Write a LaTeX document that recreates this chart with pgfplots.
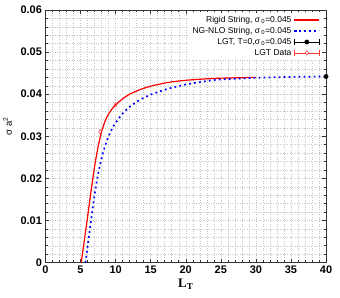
\documentclass[border=0pt]{standalone}
\usepackage{pgfplots}
\pgfplotsset{compat=1.18}
\usepackage{fontspec}
\setmainfont{Liberation Sans}
\newfontfamily\serifb{Liberation Serif}
\begin{document}
\begin{tikzpicture}
\pgfplotsset{
  longline/.style={legend image code/.code={\draw[mark repeat=2,mark phase=2,##1] plot coordinates {(0pt,0pt) (12.5pt,0pt) (25pt,0pt)};}},
}
\begin{axis}[
  scale only axis, width=281pt, height=253pt,
  at={(0,0)}, anchor=south west,
  xmin=0, xmax=40, ymin=0, ymax=0.06,
  xtick={0,5,10,15,20,25,30,35,40},
  ytick={0,0.01,0.02,0.03,0.04,0.05,0.06},
  minor x tick num=4, minor y tick num=4,
  scaled y ticks=false,
  yticklabel style={/pgf/number format/fixed, /pgf/number format/precision=2},
  /pgf/number format/assume math mode=true,
  tick label style={font=\fontsize{11}{12}\selectfont\bfseries},
  tick align=inside, tick pos=both,
  major tick length=4pt, minor tick length=2.5pt,
  tick style={black!80, line width=0.5pt},
  axis line style={black!80, line width=0.9pt},
  grid=both,
  major grid style={gray!45, dotted, line width=0.45pt},
  minor grid style={gray!45, dotted, line width=0.45pt},
  xlabel={L\textsubscript{T}},
  ylabel={σ a\textsuperscript{2}},
  every axis x label/.style={at={(axis description cs:0.5,-0.087)}, anchor=center, font=\serifb\bfseries\fontsize{13}{14}\selectfont},
  every axis y label/.style={at={(axis description cs:-0.135,0.54)}, rotate=90, anchor=center, font=\fontsize{9.5}{10}\selectfont},
  clip mode=individual,
  legend style={at={(axis description cs:0.985,0.99)}, anchor=north east, draw=none, fill=white,
    font=\fontsize{8.5}{9.5}\selectfont, row sep=-0.6pt, inner sep=1.5pt},
  legend cell align=right,
  legend plot pos=right,
]
\addplot[red, line width=1.2pt, smooth, tension=0.4, longline] coordinates {
(5.1,0) (5.5,0.0048) (6.0,0.0108) (6.5,0.0170) (7.0,0.0228) (7.5,0.0275) (8.0,0.0311)
(8.5,0.0336) (9.0,0.0353) (9.5,0.0365) (10,0.0375) (11,0.0389) (12,0.0400) (13.5,0.0411)
(15,0.0419) (17.5,0.0428) (20,0.0433) (22.5,0.0436) (25,0.0438) (27.5,0.0439) (30,0.0440)
};
\addlegendentry{Rigid String, σ\,\textsubscript{0}=0.045}
\addplot[blue, line width=1.7pt, dash pattern=on 1.8pt off 3.2pt, smooth, tension=0.4, longline] coordinates {
(5.7,0) (6.0,0.0038) (6.5,0.0100) (7.0,0.0161) (7.5,0.0210) (8.0,0.0248) (8.5,0.0277)
(9.0,0.0300) (9.5,0.0318) (10,0.0332) (11,0.0354) (12,0.0370) (13.5,0.0387) (15,0.0399)
(17.5,0.0413) (20,0.0423) (22.5,0.0430) (25,0.0435) (30,0.0439) (35,0.0441) (40,0.0442)
};
\addlegendentry{NG-NLO String, σ\,\textsubscript{0}=0.045}
\addplot[only marks, mark=*, mark size=2.2pt, black,
  legend image code/.code={\draw[black, line width=0.5pt, |-|] (0pt,0pt) -- (25pt,0pt); \fill[black] (12.5pt,0pt) circle (2.2pt);}]
  coordinates {(40,0.0442)};
\addlegendentry{LGT, T=0,σ\,\textsubscript{0}=0.045}
\addplot[only marks, mark=diamond, mark size=2.2pt, red!80, line width=0.5pt,
  legend image code/.code={\draw[red!80, line width=0.5pt, |-|] (0pt,0pt) -- (25pt,0pt); \draw[red!80, fill=white, line width=0.5pt] (12.5pt,2.2pt) -- (14.2pt,0pt) -- (12.5pt,-2.2pt) -- (10.8pt,0pt) -- cycle;}]
  coordinates {(7.8,0.0311) (10,0.0375)};
\addlegendentry{LGT Data}
\end{axis}
\path (-45pt,-35pt) rectangle (295pt,263pt);
\end{tikzpicture}
\end{document}
